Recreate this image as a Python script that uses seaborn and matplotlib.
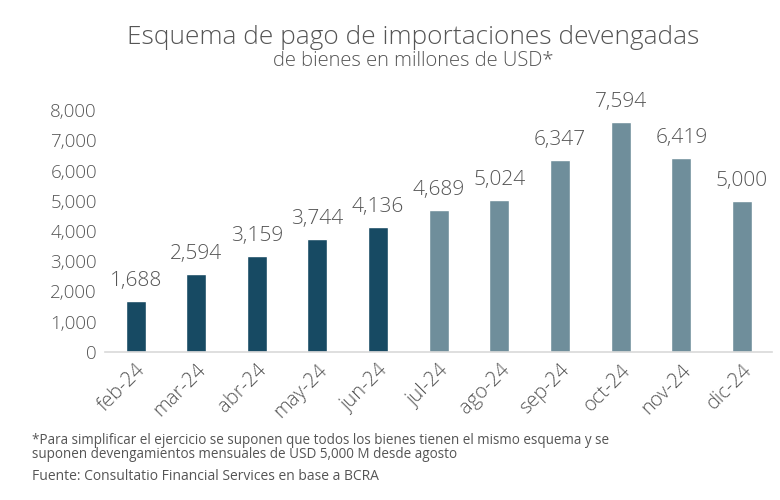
import matplotlib
matplotlib.use("Agg")
import matplotlib.pyplot as plt
import seaborn as sns
import pandas as pd

months = ["feb-24", "mar-24", "abr-24", "may-24", "jun-24", "jul-24",
          "ago-24", "sep-24", "oct-24", "nov-24", "dic-24"]
values = [1688, 2594, 3159, 3744, 4136, 4689, 5024, 6347, 7594, 6419, 5000]
yticks = [0, 1000, 2000, 3000, 4000, 5000, 6000, 7000, 8000]

DARK = "#174a63"
LIGHT = "#6f8e9b"
colors = [DARK] * 5 + [LIGHT] * 6
TXT = "#555555"

sns.set_theme(style="white")
plt.rcParams["font.family"] = ["Open Sans", "DejaVu Sans"]
plt.rcParams["font.weight"] = "light"

df = pd.DataFrame({"mes": months, "valor": values})

fig = plt.figure(figsize=(7.8, 5.0), dpi=100)
ax = fig.add_axes([0.135, 0.296, 0.855, 0.484])
sns.barplot(data=df, x="mes", y="valor", hue="mes", palette=colors,
            legend=False, width=0.33, ax=ax, saturation=1)

ax.set_ylim(0, 8000)
ax.set_xlim(-0.5, 10.5)
ax.set_yticks(yticks)
ax.set_yticklabels([f"{v:,}" for v in yticks], fontsize=13.5, color=TXT)
ax.set_xticks(range(len(months)))
ax.set_xticklabels(months, rotation=45, ha="right", rotation_mode="anchor",
                   fontsize=14.5, color=TXT)
ax.tick_params(axis="both", length=0, pad=6)
ax.set_xlabel("")
ax.set_ylabel("")
for s in ["top", "right", "left"]:
    ax.spines[s].set_visible(False)
ax.spines["bottom"].set_color("#d9d9d9")
ax.spines["bottom"].set_linewidth(1.2)

for i, v in enumerate(values):
    ax.text(i, v + 330, f"{v:,}", ha="center", va="bottom", fontsize=15,
            color=TXT, clip_on=False)

fig.text(0.53, 0.925, "Esquema de pago de importaciones devengadas",
         ha="center", va="center", fontsize=18.9, color=TXT)
fig.text(0.53, 0.878, "de bienes en millones de USD*",
         ha="center", va="center", fontsize=14.5, color=TXT)

fig.text(0.041, 0.105,
         "*Para simplificar el ejercicio se suponen que todos los bienes tienen el mismo esquema y se\n"
         "suponen devengamientos mensuales de USD 5,000 M desde agosto",
         ha="left", va="center", fontsize=9.75, color=TXT, linespacing=0.95,
         fontweight="normal")
fig.text(0.041, 0.046, "Fuente: Consultatio Financial Services en base a BCRA",
         ha="left", va="center", fontsize=10, color=TXT, fontweight="normal")

fig.savefig("out.png", dpi=100, facecolor="white")
